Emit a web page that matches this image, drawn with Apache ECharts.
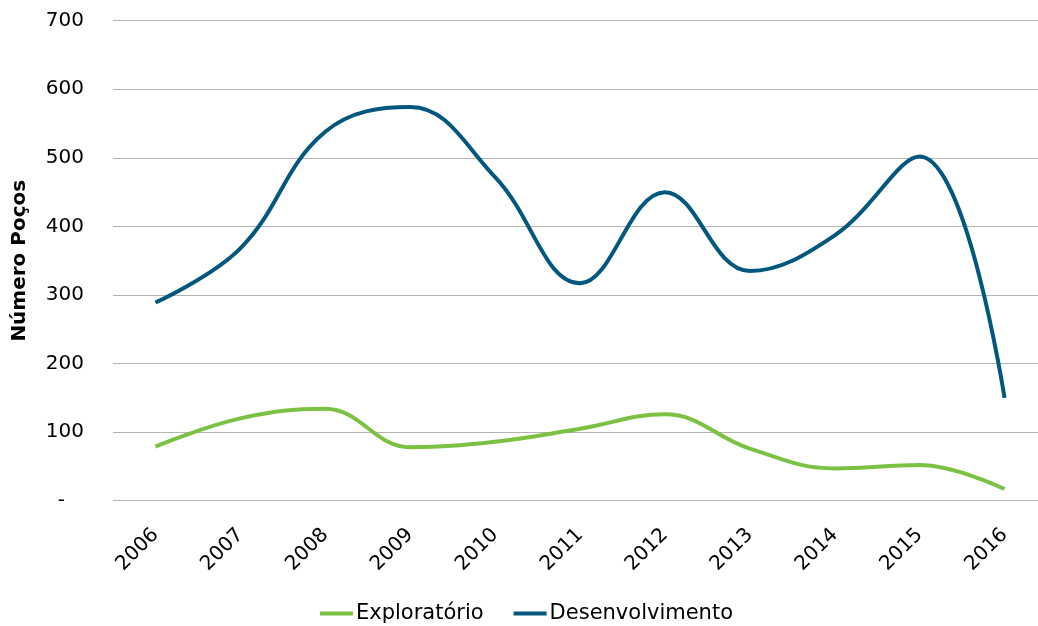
<!DOCTYPE html>
<html>
<head>
<meta charset="utf-8">
<script src="https://cdn.jsdelivr.net/npm/echarts@6/dist/echarts.min.js"></script>
<style>
  html, body { margin: 0; padding: 0; background: #ffffff; }
  #chart { width: 1038px; height: 626px; }
</style>
</head>
<body>
<div id="chart"></div>
<script>
// Número de poços perfurados por ano
const anos = ['2006', '2007', '2008', '2009', '2010', '2011', '2012', '2013', '2014', '2015', '2016'];
const exploratorio = [79, 120, 134, 78, 86, 105, 126, 76, 47, 52, 17];
const desenvolvimento = [289, 368, 538, 574, 472, 317, 450, 335, 387, 502, 150];
const yTicks = { min: 0, max: 700, interval: 100 };

const fonte = 'DejaVu Sans, Verdana, sans-serif';
const chart = echarts.init(document.getElementById('chart'));

chart.setOption({
  animation: false,
  backgroundColor: '#ffffff',
  grid: {
    left: 113,
    top: 20.7,
    bottom: 125.3,
    width: 934,
    containLabel: false,
    outerBoundsMode: 'none'
  },
  legend: {
    top: 603,
    left: 320,
    icon: 'rect',
    itemWidth: 33,
    itemHeight: 4,
    itemGap: 30,
    padding: 0,
    textStyle: { fontFamily: fonte, fontSize: 21, color: '#000000', padding: [0, 0, 0, -2] },
    data: ['Exploratório', 'Desenvolvimento']
  },
  xAxis: {
    type: 'category',
    data: anos,
    boundaryGap: true,
    axisLine: { show: false },
    axisTick: { show: false },
    axisLabel: {
      rotate: 45,
      margin: 31,
      interval: 0,
      fontFamily: fonte,
      fontSize: 20,
      color: '#000000'
    }
  },
  yAxis: {
    type: 'value',
    min: yTicks.min,
    max: yTicks.max,
    interval: yTicks.interval,
    name: 'Número Poços',
    nameLocation: 'middle',
    nameGap: 83,
    nameRotate: 90,
    nameTextStyle: { fontFamily: fonte, fontSize: 20, fontWeight: 'bold', color: '#000000' },
    axisLine: { show: false },
    axisTick: { show: false },
    splitLine: { lineStyle: { color: '#b3b3b3', width: 1 } },
    axisLabel: {
      margin: 29,
      fontFamily: fonte,
      fontSize: 20,
      color: '#000000',
      formatter: v => (v === 0 ? '-   ' : String(v))
    }
  },
  series: [
    {
      name: 'Exploratório',
      type: 'line',
      data: exploratorio,
      smooth: 0.4,
      symbol: 'none',
      lineStyle: { color: '#7cc242', width: 4 },
      itemStyle: { color: '#7cc242' }
    },
    {
      name: 'Desenvolvimento',
      type: 'line',
      data: desenvolvimento,
      smooth: 0.4,
      symbol: 'none',
      lineStyle: { color: '#02577e', width: 4 },
      itemStyle: { color: '#02577e' }
    }
  ]
});
</script>
</body>
</html>
